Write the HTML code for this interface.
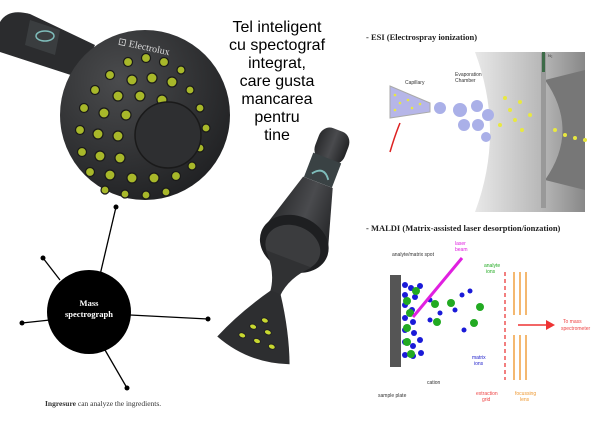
<!DOCTYPE html>
<html><head><meta charset="utf-8"><style>
html,body{margin:0;padding:0;background:#fff;width:600px;height:437px;overflow:hidden}
svg{display:block}
</style></head><body>
<svg width="600" height="437" viewBox="0 0 600 437" xmlns="http://www.w3.org/2000/svg" font-family="Liberation Sans, sans-serif">
<defs>
<radialGradient id="ball" cx="0.35" cy="0.3" r="0.8"><stop offset="0" stop-color="#4a4b4d"/><stop offset="1" stop-color="#1e1f21"/></radialGradient>
<linearGradient id="tube" x1="0" y1="0" x2="1" y2="0"><stop offset="0" stop-color="#2a2b2d"/><stop offset="0.5" stop-color="#4a4b4e"/><stop offset="1" stop-color="#232426"/></linearGradient>
<linearGradient id="cham" x1="0" y1="0" x2="1" y2="0"><stop offset="0" stop-color="#e8e8e8"/><stop offset="0.6" stop-color="#b8b8b8"/><stop offset="1" stop-color="#888"/></linearGradient>
</defs>
<!-- device 1 handle -->
<path d="M0,22 Q8,8 30,14 L95,45 L80,78 L0,52 Z" fill="#2b2c2e"/>
<path d="M30,20 L60,30 L55,55 L25,45 Z" fill="#3a3d3f"/>
<ellipse cx="45" cy="36" rx="9" ry="5" fill="none" stroke="#7fbdbb" stroke-width="1.5"/>
<circle cx="145" cy="115" r="85" fill="url(#ball)"/>
<text x="118" y="49" font-family="Liberation Serif, serif" font-size="10" fill="#ddd" transform="rotate(12 140 45)">⊡ Electrolux</text>
<g fill="#a8b82a" stroke="#1a1a1a" stroke-width="1.2">
<circle cx="128" cy="62" r="4.5"/><circle cx="146" cy="58" r="4.5"/><circle cx="164" cy="62" r="4.5"/><circle cx="181" cy="70" r="4"/>
<circle cx="110" cy="75" r="4.5"/><circle cx="132" cy="80" r="5"/><circle cx="152" cy="78" r="5"/><circle cx="172" cy="82" r="5"/><circle cx="190" cy="90" r="4"/>
<circle cx="95" cy="90" r="4.5"/><circle cx="118" cy="96" r="5"/><circle cx="140" cy="96" r="5"/><circle cx="162" cy="100" r="5"/><circle cx="200" cy="108" r="4"/>
<circle cx="84" cy="108" r="4.5"/><circle cx="104" cy="113" r="5"/><circle cx="126" cy="115" r="5"/><circle cx="206" cy="128" r="4"/>
<circle cx="80" cy="130" r="4.5"/><circle cx="98" cy="134" r="5"/><circle cx="118" cy="136" r="5"/>
<circle cx="82" cy="152" r="4.5"/><circle cx="100" cy="156" r="5"/><circle cx="120" cy="158" r="5"/><circle cx="200" cy="148" r="4"/>
<circle cx="90" cy="172" r="4.5"/><circle cx="110" cy="175" r="5"/><circle cx="132" cy="178" r="5"/><circle cx="154" cy="178" r="5"/><circle cx="176" cy="176" r="4.5"/><circle cx="192" cy="166" r="4"/>
<circle cx="105" cy="190" r="4"/><circle cx="125" cy="194" r="4"/><circle cx="146" cy="195" r="4"/><circle cx="166" cy="192" r="4"/>
</g>
<circle cx="168" cy="135" r="33" fill="#2e2f31" stroke="#1a1a1a" stroke-width="1.5"/>
<!-- title -->
<g font-size="16" fill="#000" text-anchor="middle" font-family="Liberation Sans, DejaVu Sans, sans-serif">
<text x="277" y="32">Tel inteligent</text><text x="277" y="50">cu spectograf</text><text x="277" y="68">integrat,</text><text x="277" y="86">care gusta</text><text x="277" y="104">mancarea</text><text x="277" y="122">pentru</text><text x="277" y="140">tine</text>
</g>
<!-- device 2 -->
<g transform="translate(338,130) rotate(21) scale(0.88,1)">
<rect x="-18" y="0" width="36" height="34" rx="12" fill="url(#tube)"/>
<rect x="-17" y="30" width="34" height="26" fill="#3a4244"/>
<path d="M-10,50 Q0,38 10,50" fill="none" stroke="#7fbdbb" stroke-width="2"/>
<path d="M-18,56 L18,56 L38,115 L-38,115 Z" fill="url(#tube)"/>
<ellipse cx="0" cy="122" rx="40" ry="28" fill="#1e1f21"/>
<ellipse cx="0" cy="126" rx="32" ry="22" fill="#3b3c3e"/>
<path d="M-28,138 Q-8,155 -6,176 L6,176 Q8,155 28,138 Z" fill="#303133"/>
<path d="M-6,174 L6,174 Q30,205 44,236 Q0,250 -44,236 Q-30,205 -6,174 Z" fill="#2d2e30"/>
<g fill="#c8d830" stroke="#222" stroke-width="1"><ellipse cx="0" cy="204" rx="4" ry="2.5"/><ellipse cx="-10" cy="214" rx="4" ry="2.5"/><ellipse cx="8" cy="214" rx="4" ry="2.5"/><ellipse cx="-18" cy="226" rx="4" ry="2.5"/><ellipse cx="0" cy="226" rx="4" ry="2.5"/><ellipse cx="18" cy="226" rx="4" ry="2.5"/></g>
</g>
<!-- mass spectrograph -->
<g stroke="#000" stroke-width="1.3">
<line x1="100" y1="275" x2="116" y2="207"/><line x1="60" y1="280" x2="43" y2="258"/><line x1="50" y1="320" x2="22" y2="323"/><line x1="130" y1="315" x2="208" y2="319"/><line x1="105" y1="350" x2="127" y2="388"/>
</g>
<g fill="#000"><circle cx="116" cy="207" r="2.5"/><circle cx="43" cy="258" r="2.5"/><circle cx="22" cy="323" r="2.5"/><circle cx="208" cy="319" r="2.5"/><circle cx="127" cy="388" r="2.5"/></g>
<circle cx="89" cy="312" r="42" fill="#000"/>
<g fill="#fff" font-family="Liberation Serif, serif" font-size="8.5" font-weight="bold" text-anchor="middle"><text x="89" y="306">Mass</text><text x="89" y="317">spectrograph</text></g>
<text x="45" y="406" font-family="Liberation Serif, serif" font-size="7.5" fill="#333"><tspan font-weight="bold">Ingresure</tspan> can analyze the ingredients.</text>
<!-- ESI -->
<text x="366" y="40" font-family="Liberation Serif, serif" font-size="8.5" font-weight="bold" fill="#222">- ESI (Electrospray ionization)</text>
<path d="M475,52 L585,52 L585,212 L475,212 Q505,132 475,52 Z" fill="url(#cham)"/>
<path d="M545,80 Q580,130 545,180 L585,190 L585,70 Z" fill="#777"/>
<rect x="541" y="53" width="5" height="155" fill="#999"/>
<rect x="542" y="52" width="3" height="20" fill="#3d6b48"/>
<text x="548" y="57" font-size="4" fill="#333">N₂</text>
<text x="455" y="76" font-size="5" fill="#333">Evaporation</text><text x="455" y="82" font-size="5" fill="#333">Chamber</text>
<text x="405" y="84" font-size="5" fill="#333">Capillary</text>
<path d="M390,86 L430,103 L430,112 L390,118 Z" fill="#b6b6e8" stroke="#aaa"/>
<g fill="#e8e840"><circle cx="395" cy="95" r="1.3"/><circle cx="400" cy="103" r="1.3"/><circle cx="408" cy="100" r="1.3"/><circle cx="395" cy="110" r="1.3"/><circle cx="412" cy="108" r="1.3"/><circle cx="420" cy="104" r="1.3"/></g>
<path d="M400,123 Q395,135 390,152" stroke="#d22" stroke-width="1.5" fill="none"/>
<g fill="#aab0e8"><circle cx="440" cy="108" r="6"/><circle cx="460" cy="110" r="7"/><circle cx="477" cy="106" r="6"/><circle cx="464" cy="125" r="6"/><circle cx="478" cy="125" r="6"/><circle cx="488" cy="115" r="6"/><circle cx="486" cy="137" r="5"/></g>
<g fill="#e8e840"><circle cx="505" cy="98" r="2"/><circle cx="510" cy="110" r="2"/><circle cx="515" cy="120" r="2"/><circle cx="500" cy="125" r="2"/><circle cx="520" cy="102" r="2"/><circle cx="522" cy="130" r="2"/><circle cx="530" cy="115" r="2"/><circle cx="555" cy="130" r="2"/><circle cx="565" cy="135" r="2"/><circle cx="575" cy="138" r="2"/><circle cx="585" cy="140" r="2"/></g>
<!-- MALDI -->
<text x="366" y="231" font-family="Liberation Serif, serif" font-size="8.5" font-weight="bold" fill="#222">- MALDI (Matrix-assisted laser desorption/ionzation)</text>
<rect x="390" y="275" width="11" height="92" fill="#555"/>
<g fill="#1a1ad8">
<circle cx="405" cy="285" r="3"/><circle cx="411" cy="288" r="3"/><circle cx="405" cy="295" r="3"/><circle cx="415" cy="297" r="3"/><circle cx="405" cy="305" r="3"/><circle cx="412" cy="310" r="3"/><circle cx="405" cy="318" r="3"/><circle cx="413" cy="322" r="3"/><circle cx="405" cy="330" r="3"/><circle cx="414" cy="333" r="3"/><circle cx="405" cy="342" r="3"/><circle cx="413" cy="346" r="3"/><circle cx="405" cy="355" r="3"/><circle cx="413" cy="356" r="3"/><circle cx="420" cy="286" r="3"/><circle cx="420" cy="340" r="3"/><circle cx="421" cy="353" r="3"/>
<circle cx="430" cy="300" r="2.5"/><circle cx="440" cy="313" r="2.5"/><circle cx="430" cy="320" r="2.5"/><circle cx="455" cy="310" r="2.5"/><circle cx="462" cy="295" r="2.5"/><circle cx="470" cy="291" r="2.5"/><circle cx="464" cy="330" r="2.5"/></g>
<g fill="#22aa22"><circle cx="416" cy="291" r="4"/><circle cx="407" cy="301" r="4"/><circle cx="410" cy="313" r="4"/><circle cx="407" cy="328" r="4"/><circle cx="407" cy="342" r="4"/><circle cx="411" cy="354" r="4"/><circle cx="435" cy="304" r="4"/><circle cx="451" cy="303" r="4"/><circle cx="437" cy="322" r="4"/><circle cx="480" cy="307" r="4"/><circle cx="474" cy="323" r="4"/></g>
<line x1="413" y1="317" x2="462" y2="258" stroke="#e020e0" stroke-width="3"/>
<text x="455" y="245" font-size="5" fill="#e020e0">laser</text><text x="455" y="251" font-size="5" fill="#e020e0">beam</text>
<text x="392" y="256" font-size="5" fill="#333">analyte/matrix spot</text>
<text x="484" y="267" font-size="5" fill="#2a2">analyte</text><text x="486" y="273" font-size="5" fill="#2a2">ions</text>
<text x="472" y="359" font-size="5" fill="#22c">matrix</text><text x="474" y="365" font-size="5" fill="#22c">ions</text>
<text x="378" y="397" font-size="5" fill="#333">sample plate</text>
<text x="427" y="384" font-size="5" fill="#333">cation</text>
<text x="476" y="395" font-size="5" fill="#e44">extraction</text><text x="482" y="401" font-size="5" fill="#e44">grid</text>
<text x="515" y="395" font-size="5" fill="#e93">focussing</text><text x="520" y="401" font-size="5" fill="#e93">lens</text>
<line x1="505" y1="272" x2="505" y2="380" stroke="#e55" stroke-width="1.5" stroke-dasharray="4,3"/>
<g stroke="#f0a040" stroke-width="1.5"><line x1="514" y1="272" x2="514" y2="315"/><line x1="520" y1="272" x2="520" y2="315"/><line x1="526" y1="272" x2="526" y2="315"/><line x1="514" y1="335" x2="514" y2="380"/><line x1="520" y1="335" x2="520" y2="380"/><line x1="526" y1="335" x2="526" y2="380"/></g>
<line x1="518" y1="325" x2="548" y2="325" stroke="#e33" stroke-width="1.5"/>
<polygon points="546,320 555,325 546,330" fill="#e33"/>
<text x="563" y="323" font-size="5" fill="#e44">To mass</text><text x="561" y="330" font-size="5" fill="#e44">spectrometer</text>
</svg>
</body></html>
